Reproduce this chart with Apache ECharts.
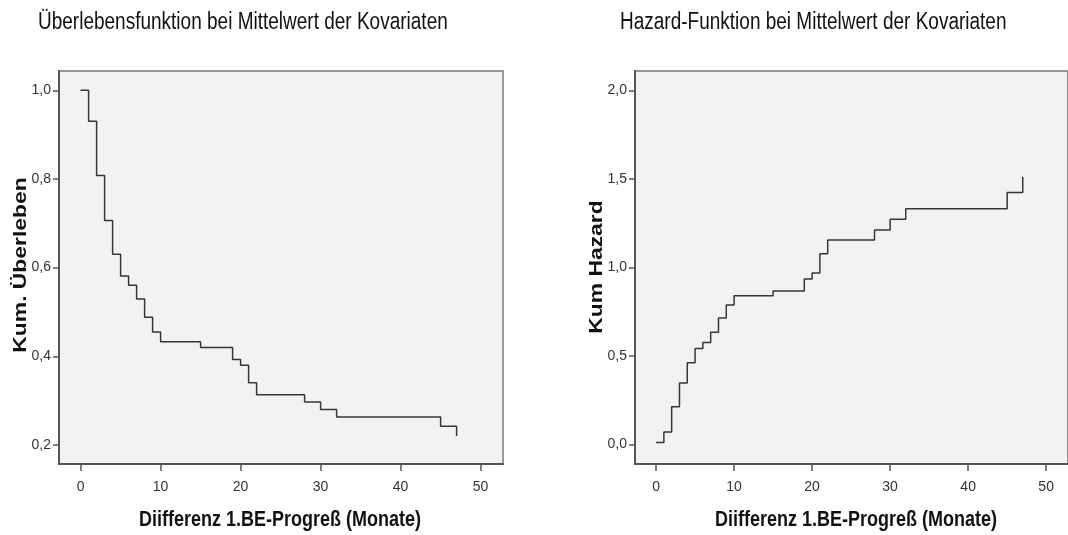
<!DOCTYPE html>
<html>
<head>
<meta charset="utf-8">
<title>Überlebens- und Hazard-Funktion</title>
<script src="https://cdn.jsdelivr.net/npm/echarts@6/dist/echarts.min.js"></script>
<style>
  html, body { margin: 0; padding: 0; background: #ffffff; }
  #chart { width: 1068px; height: 535px; }
</style>
</head>
<body>
<div id="chart"></div>
<script>
// Zeitpunkte (Monate), an denen die Treppenfunktionen springen
const months = [0, 1, 2, 3, 4, 5, 6, 7, 8, 9, 10, 15, 19, 20, 21, 22, 28, 30, 32, 45, 47];

// Kumulatives Überleben bei Mittelwert der Kovariaten
const survival = [1.000, 0.930, 0.808, 0.706, 0.630, 0.581, 0.560, 0.529, 0.488, 0.455,
                  0.433, 0.420, 0.393, 0.380, 0.340, 0.313, 0.297, 0.280, 0.263, 0.242, 0.220];

// Kumulativer Hazard bei Mittelwert der Kovariaten
const hazard = [0.010, 0.070, 0.213, 0.346, 0.461, 0.541, 0.576, 0.633, 0.714, 0.787,
                0.840, 0.866, 0.934, 0.968, 1.077, 1.154, 1.211, 1.271, 1.331, 1.422, 1.510];

// Achsenbeschriftungen
const xTicks = [0, 10, 20, 30, 40, 50];
const survivalTicks = [0.2, 0.4, 0.6, 0.8, 1.0];
const hazardTicks = [0.0, 0.5, 1.0, 1.5, 2.0];

const titles = ['Überlebensfunktion bei Mittelwert der Kovariaten',
                'Hazard-Funktion bei Mittelwert der Kovariaten'];
const xName = 'Diifferenz 1.BE-Progreß (Monate)';
const yNames = ['Kum. Überleben', 'Kum Hazard'];

const pairs = (xs, ys) => xs.map((x, i) => [x, ys[i]]);
const comma = v => v.toFixed(1).replace('.', ',');

const sans = '"Liberation Sans", Arial, sans-serif';
const frameColor = '#555555';
// Texte werden leicht in die Höhe gezogen (schmale, hohe Schrift)
const stretch = 1.27;

function xAxisFor(gridIndex) {
  return {
    type: 'value', gridIndex,
    min: -2.7, max: 52.8,
    axisLine: { show: true, onZero: false, lineStyle: { color: frameColor, width: 2 } },
    axisTick: { show: true, customValues: xTicks, length: 7, lineStyle: { color: frameColor, width: 1.5 } },
    axisLabel: { customValues: xTicks, margin: 16, fontFamily: sans, fontSize: 14, color: '#333' },
    splitLine: { show: false }
  };
}

function yAxisFor(gridIndex, min, max, ticks) {
  return {
    type: 'value', gridIndex,
    min, max,
    axisLine: { show: true, onZero: false, lineStyle: { color: frameColor, width: 2 } },
    axisTick: { show: true, customValues: ticks, length: 6, lineStyle: { color: frameColor, width: 1.5 } },
    axisLabel: { customValues: ticks, margin: 8, fontFamily: sans, fontSize: 14, color: '#333', formatter: comma },
    splitLine: { show: false }
  };
}

// Titel- und Achsentitel als Textelemente
function label(text, x, y, opts) {
  return {
    type: 'text', x, y,
    rotation: opts.vertical ? Math.PI / 2 : 0,
    scaleX: opts.vertical ? stretch : 1,
    scaleY: opts.vertical ? 1 : stretch,
    silent: true,
    style: {
      text,
      fontFamily: sans,
      fontSize: opts.size,
      fontWeight: opts.bold ? 'bold' : 'normal',
      fill: '#111',
      textAlign: opts.align || 'center',
      textVerticalAlign: 'middle'
    }
  };
}

const lineStyle = { color: '#363636', width: 1.5 };

const chart = echarts.init(document.getElementById('chart'), null, { renderer: 'canvas' });
chart.setOption({
  animation: false,
  backgroundColor: '#ffffff',
  graphic: [
    label(titles[0], 38, 22, { size: 19, align: 'left' }),
    label(titles[1], 620, 22, { size: 19, align: 'left' }),
    label(xName, 280, 520, { size: 18, bold: true }),
    label(xName, 856, 520, { size: 18, bold: true }),
    label(yNames[0], 21, 265, { size: 18, bold: true, vertical: true }),
    label(yNames[1], 597, 267, { size: 18, bold: true, vertical: true })
  ],
  grid: [
    { left: 59, top: 71, width: 444, height: 393, show: true, backgroundColor: '#f2f2f2', borderColor: '#7a7a7a', borderWidth: 1.5 },
    { left: 635, top: 71, width: 444, height: 393, show: true, backgroundColor: '#f2f2f2', borderColor: '#7a7a7a', borderWidth: 1.5 }
  ],
  xAxis: [xAxisFor(0), xAxisFor(1)],
  yAxis: [
    yAxisFor(0, 0.157, 1.0435, survivalTicks),
    yAxisFor(1, -0.111, 2.109, hazardTicks)
  ],
  series: [
    { type: 'line', xAxisIndex: 0, yAxisIndex: 0, step: 'end', showSymbol: false, symbol: 'none',
      lineStyle, data: pairs(months, survival) },
    { type: 'line', xAxisIndex: 1, yAxisIndex: 1, step: 'end', showSymbol: false, symbol: 'none',
      lineStyle, data: pairs(months, hazard) }
  ]
});
</script>
</body>
</html>
